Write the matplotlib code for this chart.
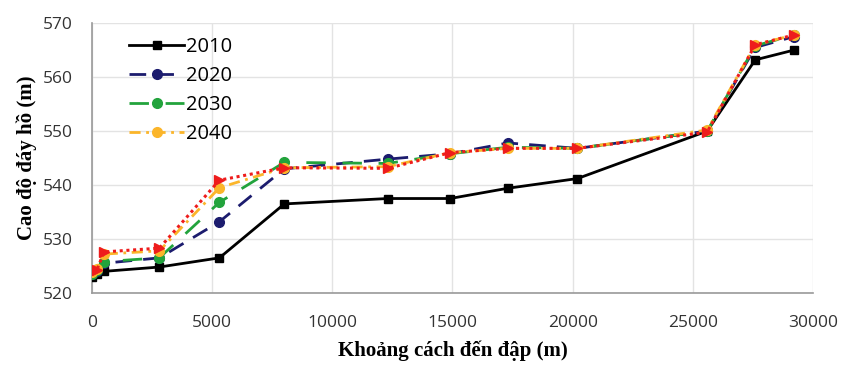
import matplotlib
matplotlib.use("Agg")
import matplotlib.pyplot as plt

distance = [0, 200, 500, 2800, 5300, 8000, 12300, 14900, 17300, 20200, 25600, 27600, 29200]
y2010 = [523.0, 523.5, 524.0, 524.8, 526.5, 536.5, 537.5, 537.5, 539.4, 541.2, 550.0, 563.2, 565.0]
y2020 = [523.5, 524.0, 525.5, 526.5, 533.2, 543.0, 544.8, 545.8, 547.8, 546.8, 550.0, 565.5, 567.5]
y2030 = [523.5, 524.2, 525.8, 526.5, 536.8, 544.2, 544.0, 545.8, 547.0, 546.8, 550.0, 565.8, 567.8]
y2040 = [523.8, 524.5, 527.2, 527.8, 539.5, 543.2, 543.4, 546.0, 546.8, 546.8, 550.2, 566.0, 567.8]
y_red = [523.8, 524.3, 527.6, 528.3, 540.9, 543.2, 543.1, 546.0, 546.8, 546.8, 549.8, 566.0, 567.8]
series_labels = ["2010", "2020", "2030", "2040"]
xticks = [0, 5000, 10000, 15000, 20000, 25000, 30000]
yticks = [520, 530, 540, 550, 560, 570]

fig = plt.figure(figsize=(8.45, 3.68), dpi=100)
ax = fig.add_axes([0.109, 0.204, 0.853, 0.733])

tick_font = "Open Sans"
ax.plot(distance, y2010, color="black", lw=2, marker="s", ms=6, label=series_labels[0], zorder=3)
ax.plot(distance, y2020, color="#1c1c6e", lw=2, ls=(0, (6, 4)), marker="o", ms=7, label=series_labels[1], zorder=4)
ax.plot(distance, y2030, color="#22a33c", lw=2, ls=(0, (7, 6)), marker="o", ms=7, label=series_labels[2], zorder=5)
ax.plot(distance, y2040, color="#fbb52a", lw=2, ls=(0, (4, 2, 1, 2)), marker="o", ms=7, label=series_labels[3], zorder=6)
ax.plot(distance, y_red, color="#ee1c1c", lw=2.2, ls=(0, (1, 1.2)), marker=">", ms=7.5, label="_nolegend_", zorder=7)

ax.set_xlim(0, 30000)
ax.set_ylim(520, 570)
ax.set_xticks(xticks)
ax.set_yticks(yticks)
ax.tick_params(axis="y", length=0, labelsize=12.5, pad=14, colors="#333333")
ax.tick_params(axis="x", length=0, labelsize=12.5, pad=16, colors="#333333")
for lab in ax.get_xticklabels() + ax.get_yticklabels():
    lab.set_fontfamily(tick_font)
ax.grid(True, color="#e3e3e3", lw=1)
ax.set_axisbelow(True)
for s in ["top", "right"]:
    ax.spines[s].set_visible(False)
for s in ["left", "bottom"]:
    ax.spines[s].set_color("#999999")
    ax.spines[s].set_linewidth(1.2)

ax.set_xlabel("Khoảng cách đến đập (m)", fontfamily="Liberation Serif", fontweight="bold", fontsize=15, labelpad=7)
ax.set_ylabel("Cao độ đáy hồ (m)", fontfamily="Liberation Serif", fontweight="bold", fontsize=15, labelpad=4)

leg = ax.legend(loc="upper left", bbox_to_anchor=(0.035, 0.995), frameon=False,
                handlelength=2.7, labelspacing=0.45, handletextpad=0.1, borderaxespad=0.2,
                prop={"family": tick_font, "size": 14.5})

fig.savefig("out.png", dpi=100, facecolor="white")
